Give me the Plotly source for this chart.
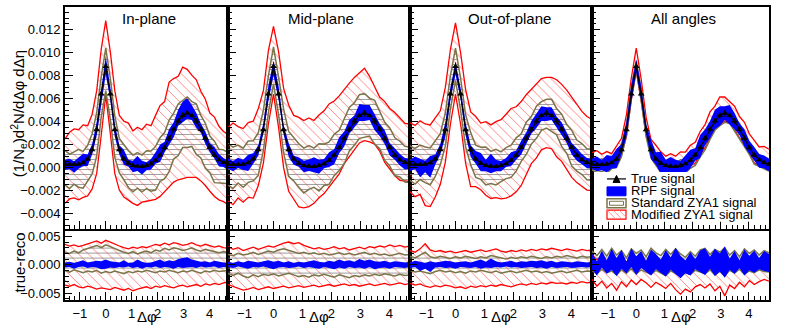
import plotly.graph_objects as go

W, H = 788, 328
SCALE = 1e-3  # all series below are in units of 1e-3
FONT = "Liberation Sans, Arial, sans-serif"
RED = "#ff0000"
OLIVE = "#7a7448"
BLUE = "#0000ff"

# bin centres in delta-phi (rad), -pi/2 .. 3pi/2
DPHI = [-1.571, -1.396, -1.222, -1.047, -0.873, -0.698, -0.524, -0.349, -0.175, 0.0,
        0.175, 0.349, 0.524, 0.698, 0.873, 1.047, 1.222, 1.396, 1.571, 1.745,
        1.920, 2.094, 2.269, 2.443, 2.618, 2.793, 2.967, 3.142, 3.316, 3.491,
        3.665, 3.840, 4.014, 4.189, 4.363, 4.538, 4.712]

TRUE_SIGNAL = [0.30, 0.28, 0.27, 0.30, 0.42, 0.75, 1.55, 3.30, 6.40, 8.80,
               6.40, 3.30, 1.55, 0.75, 0.38, 0.20, 0.12, 0.10, 0.18, 0.35,
               0.65, 1.10, 1.75, 2.55, 3.35, 4.05, 4.55, 4.75, 4.55, 4.05,
               3.35, 2.55, 1.75, 1.10, 0.70, 0.45, 0.30]
TRUE_ERR = [0.15, 0.15, 0.14, 0.15, 0.16, 0.18, 0.20, 0.25, 0.30, 0.35,
            0.30, 0.25, 0.20, 0.18, 0.16, 0.15, 0.14, 0.14, 0.15, 0.16,
            0.17, 0.19, 0.21, 0.23, 0.25, 0.27, 0.28, 0.29, 0.28, 0.27,
            0.25, 0.23, 0.21, 0.19, 0.17, 0.16, 0.15]

# ---- In-plane (offsets from the true signal) ----
MOD_HI_1 = [2.2, 2.8, 3.1, 3.0, 3.3, 2.9, 3.1, 3.4, 3.9, 4.0, 3.7, 3.4, 3.0, 3.3, 3.5, 3.0, 3.4, 3.2, 3.6, 3.3,
            3.9, 4.3, 4.0, 4.9, 4.4, 3.9, 4.2, 3.8, 3.5, 3.6, 3.3, 3.4, 3.0, 3.3, 2.9, 2.7, 2.6]
MOD_LO_1 = [-3.4, -3.0, -2.9, -3.1, -3.0, -3.2, -3.4, -3.8, -3.6, -2.5, -3.4, -3.8, -3.5, -3.3, -3.2, -3.3, -3.4, -3.1, -3.1, -3.2,
            -3.4, -3.6, -3.8, -4.2, -4.6, -5.1, -5.5, -5.6, -5.4, -4.9, -4.5, -4.1, -3.8, -3.6, -3.5, -3.4, -3.5]
STD_HI_1 = [1.2, 0.9, 1.1, 1.3, 1.0, 1.2, 1.4, 1.5, 1.5, 1.6, 1.4, 1.2, 1.0, 1.3, 1.1, 0.9, 1.2, 1.0, 1.3, 1.1,
            1.2, 1.5, 1.3, 1.6, 1.4, 1.5, 1.3, 1.4, 1.2, 1.5, 1.2, 1.3, 1.0, 1.2, 0.9, 1.1, 1.0]
STD_LO_1 = [-1.8, -2.1, -1.7, -2.0, -2.2, -1.9, -2.1, -2.3, -2.0, -2.1, -2.2, -2.4, -2.0, -1.8, -2.1, -2.3, -1.9, -2.2, -2.0, -2.4,
            -2.6, -2.3, -2.7, -2.9, -2.6, -3.0, -2.8, -3.0, -2.7, -2.9, -2.5, -2.6, -2.2, -2.4, -2.0, -1.8, -1.7]
RPF_HI_1 = [0.4, 0.5, 0.3, 0.6, 0.8, 0.4, 0.5, 0.7, 0.6, 0.9, 0.6, 0.5, 0.4, 0.8, 0.3, 0.4, 0.9, 0.5, 0.3, 0.4,
            0.7, 0.9, 0.5, 0.8, 0.6, 1.0, 1.2, 1.3, 0.9, 0.7, 0.5, 0.6, 0.4, 0.7, 0.5, 0.4, 0.3]
RPF_LO_1 = [-0.5, -0.4, -0.7, -0.4, -0.3, -0.6, -0.4, -0.5, -0.8, -0.7, -0.5, -0.6, -0.4, -0.5, -0.3, -0.6, -0.4, -0.7, -0.4, -0.5,
            -0.3, -0.6, -0.4, -0.5, -0.7, -0.4, -0.6, -0.5, -0.4, -0.6, -0.3, -0.5, -0.4, -0.3, -0.6, -0.4, -0.5]

# ---- Mid-plane ----
MOD_HI_2 = [3.2, 3.6, 3.3, 3.1, 3.5, 3.3, 3.6, 3.4, 3.8, 3.5, 3.7, 3.6, 3.9, 3.8, 4.0, 3.9, 4.2, 4.0, 4.4, 4.6,
            4.9, 4.7, 4.5, 4.3, 4.0, 3.8, 3.7, 3.9, 3.4, 3.0, 2.8, 3.2, 3.4, 3.7, 3.6, 3.4, 3.5]
MOD_LO_2 = [-3.2, -3.5, -2.9, -3.3, -3.0, -3.4, -3.1, -2.9, -2.6, -2.4, -2.9, -3.3, -3.6, -3.5, -3.8, -3.7, -3.5, -3.2, -2.8, -2.6,
            -2.3, -2.2, -2.3, -2.2, -2.4, -2.5, -2.4, -2.4, -2.3, -2.0, -1.9, -2.1, -1.9, -1.8, -1.8, -1.6, -1.5]
STD_HI_2 = [1.8, 1.5, 1.7, 1.4, 1.9, 1.6, 1.5, 1.7, 1.6, 1.7, 1.5, 1.8, 1.6, 1.9, 1.7, 1.5, 1.8, 1.6, 1.9, 1.7,
            1.6, 1.8, 1.5, 1.7, 1.9, 1.6, 1.8, 1.7, 1.5, 1.8, 1.6, 1.4, 1.7, 1.5, 1.6, 1.4, 1.5]
STD_LO_2 = [-1.8, -2.1, -1.6, -2.0, -1.7, -1.9, -2.2, -1.8, -1.6, -1.5, -1.8, -2.0, -2.3, -1.9, -2.1, -2.4, -2.0, -1.8, -2.2, -1.9,
            -2.1, -1.8, -2.0, -2.2, -1.9, -2.1, -2.0, -2.1, -1.8, -2.0, -1.7, -1.9, -1.6, -1.8, -1.5, -1.7, -1.6]
RPF_HI_2 = [0.5, 0.3, 0.6, 0.4, 0.7, 0.5, 0.4, 0.6, 0.8, 0.5, 0.7, 0.4, 0.6, 0.3, 0.5, 0.4, 0.6, 0.8, 0.5, 0.4,
            0.7, 0.5, 0.9, 0.6, 0.8, 0.5, 1.0, 0.7, 0.9, 0.6, 0.5, 0.7, 0.4, 0.6, 0.5, 0.4, 0.5]
RPF_LO_2 = [-0.4, -0.6, -0.3, -0.5, -0.7, -0.4, -0.5, -0.3, -0.6, -0.8, -0.5, -0.4, -0.6, -0.5, -0.3, -0.6, -0.4, -0.5, -0.7, -0.4,
            -0.6, -0.8, -0.5, -0.7, -0.4, -0.6, -0.5, -0.7, -0.4, -0.8, -0.6, -0.5, -0.7, -0.4, -0.5, -0.6, -0.4]

# ---- Out-of-plane ----
MOD_HI_3 = [3.6, 3.4, 3.8, 3.5, 3.3, 3.6, 3.4, 3.7, 3.9, 3.8, 3.6, 3.5, 3.3, 3.7, 3.5, 3.8, 3.6, 3.9, 4.0, 4.3,
            4.5, 4.2, 4.0, 3.8, 3.5, 3.3, 3.2, 3.1, 3.3, 3.6, 3.9, 4.2, 4.4, 4.5, 4.2, 4.0, 3.9]
MOD_LO_3 = [-2.4, -2.8, -2.6, -3.6, -3.8, -3.3, -3.0, -2.8, -2.6, -2.4, -2.6, -2.9, -3.2, -2.4, -2.3, -2.6, -2.8, -2.7, -2.9, -3.0,
            -3.1, -3.2, -3.3, -3.1, -3.0, -3.2, -3.0, -3.0, -2.9, -3.1, -2.8, -2.7, -2.6, -2.4, -2.3, -2.4, -2.3]
STD_HI_3 = [1.6, 1.4, 1.7, 1.5, 1.3, 1.6, 1.4, 1.5, 1.6, 1.6, 1.4, 1.3, 1.5, 1.2, 1.4, 1.6, 1.3, 1.5, 1.2, 1.4,
            1.3, 1.5, 1.2, 1.4, 1.1, 1.3, 1.2, 1.2, 1.4, 1.1, 1.3, 1.2, 1.5, 1.3, 1.4, 1.2, 1.3]
STD_LO_3 = [-1.4, -1.7, -1.3, -1.6, -1.9, -1.5, -1.3, -1.4, -1.3, -1.2, -1.4, -1.5, -1.3, -1.6, -1.4, -1.7, -1.5, -1.6, -1.4, -1.3,
            -1.5, -1.4, -1.2, -1.4, -1.3, -1.5, -1.3, -1.3, -1.4, -1.2, -1.5, -1.3, -1.6, -1.4, -1.3, -1.5, -1.4]
RPF_HI_3 = [0.4, 0.7, 0.5, 0.3, 0.6, 0.4, 0.5, 0.7, 0.6, 0.4, 0.5, 0.6, 0.4, 0.7, 0.9, 0.5, 1.1, 0.6, 0.4, 0.5,
            0.7, 0.4, 0.6, 0.5, 0.7, 0.6, 0.8, 0.5, 0.7, 0.4, 0.6, 0.5, 0.4, 0.6, 0.5, 0.4, 0.5]
RPF_LO_3 = [-0.6, -0.4, -1.1, -0.7, -1.3, -0.5, -0.4, -0.6, -0.5, -0.7, -0.4, -0.5, -0.6, -0.4, -0.7, -0.5, -0.6, -0.4, -0.5, -0.3,
            -0.5, -0.4, -0.6, -0.5, -0.4, -0.6, -0.5, -0.7, -0.4, -0.6, -0.5, -0.4, -0.6, -0.5, -0.4, -0.5, -0.4]

# ---- All angles ----
MOD_HI_4 = [1.0, 1.2, 0.9, 1.1, 0.8, 1.2, 1.0, 1.3, 1.4, 1.6, 1.3, 1.1, 0.9, 1.2, 1.0, 0.8, 1.1, 0.9, 1.2, 1.0,
            1.3, 1.1, 1.4, 1.2, 1.5, 1.3, 1.6, 1.4, 1.2, 1.3, 1.1, 1.4, 1.2, 1.3, 1.1, 1.4, 1.3]
MOD_LO_4 = [-0.3, -0.5, -0.4, -0.6, -0.3, -0.5, -0.4, -0.6, -0.5, -0.4, -0.6, -0.5, -0.3, -0.5, -0.4, -0.6, -0.3, -0.5, -0.4, -0.6,
            -0.5, -0.7, -0.6, -0.8, -0.7, -0.6, -0.8, -0.7, -0.6, -0.8, -0.7, -0.6, -0.5, -0.7, -0.5, -0.4, -0.5]
STD_HI_4 = [0.4, 0.3, 0.5, 0.3, 0.4, 0.2, 0.5, 0.4, 0.6, 0.5, 0.4, 0.3, 0.5, 0.3, 0.4, 0.2, 0.4, 0.3, 0.5, 0.3,
            0.4, 0.5, 0.3, 0.4, 0.3, 0.5, 0.4, 0.3, 0.4, 0.3, 0.5, 0.3, 0.4, 0.2, 0.4, 0.3, 0.3]
STD_LO_4 = [-0.5, -0.7, -0.6, -0.8, -0.5, -0.7, -0.6, -0.5, -0.4, -0.3, -0.5, -0.6, -0.7, -0.5, -0.8, -0.6, -0.7, -0.5, -0.6, -0.8,
            -0.7, -0.9, -0.8, -1.0, -0.9, -0.8, -0.9, -0.8, -0.7, -0.9, -0.8, -0.7, -0.6, -0.8, -0.6, -0.5, -0.6]
RPF_HI_4 = [0.5, 0.7, 0.4, 0.8, 0.6, 0.9, 0.5, 0.7, 0.8, 0.6, 0.7, 0.5, 0.9, 0.6, 1.0, 0.5, 0.8, 0.6, 0.4, 0.7,
            0.9, 0.6, 1.1, 0.8, 0.7, 1.0, 0.8, 0.6, 0.9, 0.7, 0.5, 0.8, 0.6, 0.7, 0.5, 0.6, 0.5]
RPF_LO_4 = [-0.4, -0.6, -0.5, -0.7, -0.5, -0.8, -0.4, -0.6, -0.7, -0.5, -0.6, -0.4, -0.8, -0.5, -0.9, -0.6, -0.7, -0.5, -0.6, -0.8,
            -0.7, -0.5, -0.9, -0.6, -0.8, -0.7, -0.9, -0.6, -0.8, -0.7, -0.5, -0.7, -0.6, -0.5, -0.7, -0.5, -0.6]

# ---- residuals (true - reco) ----
R_MOD_HI_1 = [3.6, 3.3, 3.5, 3.2, 3.4, 3.7, 3.9, 4.2, 3.8, 4.3, 4.0, 3.6, 3.3, 3.0, 2.8, 3.1, 2.9, 3.2, 3.0, 3.3,
              3.6, 3.4, 3.8, 3.5, 3.9, 3.7, 3.4, 3.6, 3.9, 3.5, 3.3, 3.6, 3.4, 3.1, 3.3, 3.0, 2.9]
R_MOD_LO_1 = [-3.6, -3.8, -3.5, -3.9, -4.1, -3.8, -4.0, -4.3, -4.1, -4.2, -4.4, -4.0, -4.3, -4.5, -4.2, -4.6, -4.3, -4.1, -3.9, -4.2,
              -3.8, -4.0, -3.7, -3.9, -4.1, -3.8, -3.6, -3.9, -3.7, -3.5, -3.8, -3.4, -3.6, -3.3, -3.5, -3.2, -3.1]
R_STD_HI_1 = [2.2, 2.0, 2.4, 2.1, 2.6, 2.9, 3.1, 3.4, 3.0, 3.5, 3.2, 2.8, 2.5, 2.2, 2.0, 2.3, 1.9, 2.2, 2.4, 2.1,
              2.6, 2.4, 2.9, 2.6, 3.0, 2.8, 2.5, 2.7, 3.0, 2.6, 2.4, 2.7, 2.5, 2.3, 2.1, 2.3, 2.2]
R_STD_LO_1 = [-1.0, -1.3, -0.9, -1.2, -1.4, -1.1, -1.3, -1.0, -1.5, -1.2, -1.4, -1.1, -1.3, -1.6, -1.2, -1.4, -1.1, -1.3, -1.0, -1.2,
              -1.4, -1.1, -1.3, -1.0, -1.2, -1.4, -1.1, -1.3, -1.0, -1.2, -1.5, -1.1, -1.3, -1.0, -1.2, -1.1, -1.0]

R_MOD_HI_2 = [3.2, 2.7, 3.0, 2.5, 2.8, 3.1, 2.7, 3.0, 3.3, 3.1, 3.5, 3.8, 4.0, 3.7, 3.9, 3.4, 3.1, 2.8, 3.0, 2.7,
              2.9, 3.2, 2.8, 3.0, 2.6, 2.9, 3.1, 2.8, 3.2, 3.0, 3.3, 3.1, 3.5, 3.2, 3.4, 3.1, 3.3]
R_MOD_LO_2 = [-3.5, -3.8, -4.2, -4.5, -4.3, -4.0, -4.4, -4.1, -3.9, -4.2, -4.0, -3.8, -4.1, -3.9, -3.7, -4.0, -3.8, -3.6, -3.9, -3.7,
              -3.5, -3.8, -3.6, -3.4, -3.7, -3.5, -3.8, -3.6, -3.4, -3.7, -3.5, -3.3, -3.6, -3.4, -3.2, -3.5, -3.3]
R_STD_HI_2 = [1.8, 1.6, 2.0, 1.7, 1.9, 2.2, 1.8, 2.1, 2.4, 2.2, 2.6, 2.8, 2.5, 2.3, 2.0, 2.2, 1.9, 2.1, 1.8, 2.0,
              1.7, 1.9, 2.1, 1.8, 2.0, 1.7, 1.9, 2.2, 1.8, 2.0, 1.7, 1.9, 1.6, 1.8, 2.0, 1.7, 1.8]
R_STD_LO_2 = [-1.6, -1.9, -1.5, -2.0, -2.3, -1.8, -2.1, -1.7, -1.9, -1.6, -2.0, -1.7, -1.5, -1.8, -2.1, -1.9, -2.2, -1.8, -2.0, -1.7,
              -1.9, -2.2, -1.8, -2.0, -2.3, -1.9, -2.1, -1.8, -2.0, -1.7, -1.9, -1.6, -1.8, -2.0, -1.7, -1.9, -1.8]

R_MOD_HI_3 = [2.5, 2.2, 2.8, 3.7, 2.6, 2.3, 2.5, 2.2, 2.4, 2.1, 2.3, 2.5, 2.2, 2.4, 2.6, 2.3, 2.5, 2.8, 2.4, 2.2,
              2.5, 2.3, 2.6, 2.4, 2.7, 2.5, 2.8, 2.6, 2.9, 2.7, 2.5, 2.8, 2.6, 2.4, 2.7, 2.5, 2.6]
R_MOD_LO_3 = [-3.3, -3.6, -3.4, -3.8, -4.0, -3.7, -3.9, -3.6, -3.8, -4.1, -3.9, -4.2, -3.8, -4.0, -3.7, -3.9, -3.6, -3.8, -3.5, -3.7,
              -3.9, -3.6, -3.4, -3.6, -3.3, -3.5, -3.2, -3.4, -3.1, -3.3, -3.2, -3.4, -3.1, -3.3, -3.0, -3.2, -3.1]
R_STD_HI_3 = [1.5, 1.2, 1.7, 2.2, 1.4, 1.2, 1.5, 1.3, 1.1, 1.4, 1.2, 1.5, 1.3, 1.1, 1.4, 1.2, 1.6, 1.4, 1.2, 1.0,
              1.3, 1.1, 1.4, 1.2, 1.5, 1.3, 1.1, 1.4, 1.2, 1.5, 1.3, 1.6, 1.4, 1.2, 1.5, 1.3, 1.4]
R_STD_LO_3 = [-1.0, -1.3, -1.1, -1.4, -1.6, -1.2, -1.0, -1.3, -1.1, -1.4, -1.2, -1.5, -1.1, -1.3, -1.0, -1.2, -1.4, -1.1, -1.5, -1.3,
              -1.1, -1.4, -1.2, -1.0, -1.3, -1.1, -1.4, -1.2, -1.5, -1.3, -1.1, -1.4, -1.2, -1.0, -1.3, -1.1, -1.2]

R_MOD_HI_4 = [1.8, 0.9, 1.6, 0.6, 1.9, 0.8, 1.5, 0.4, 1.7, 1.0, 1.4, 0.5, 1.8, 1.1, 0.7, 1.5, 0.9, 1.6, 0.8, 0.3,
              1.2, 0.6, 1.4, 1.7, 0.9, 1.5, 1.1, 1.8, 0.7, 1.3, 0.5, 1.6, 1.0, 1.4, 0.8, 1.5, 1.2]
R_MOD_LO_4 = [-2.6, -3.8, -2.9, -4.1, -3.3, -4.5, -3.0, -3.9, -2.7, -3.5, -2.6, -3.2, -4.0, -3.1, -3.6, -4.2, -3.3, -4.4, -5.2, -4.3,
              -4.8, -3.9, -3.5, -4.1, -3.4, -4.6, -3.8, -5.5, -3.6, -4.2, -3.1, -3.9, -2.8, -3.5, -3.0, -2.6, -2.9]
R_STD_HI_4 = [2.4, 1.6, 2.7, 1.5, 2.9, 1.7, 2.5, 1.2, 2.8, 2.0, 2.6, 1.4, 2.9, 2.1, 1.6, 2.7, 1.8, 2.8, 1.9, 1.3,
              2.3, 1.5, 2.6, 2.9, 1.8, 2.7, 2.2, 3.0, 1.7, 2.5, 1.4, 2.8, 2.0, 2.6, 1.7, 2.5, 2.1]
R_STD_LO_4 = [-1.0, -1.6, -0.8, -1.4, -1.1, -1.8, -0.9, -1.5, -0.7, -1.6, -0.9, -1.3, -1.7, -1.0, -1.4, -1.9, -1.1, -1.6, -2.0, -1.4,
              -1.7, -1.0, -1.3, -1.6, -0.9, -1.8, -1.2, -2.0, -1.0, -1.5, -0.8, -1.7, -1.1, -1.4, -0.9, -1.2, -1.3]
R_RPF_HI_4 = [2.0, 0.6, 2.5, 0.8, 2.8, 1.2, 2.6, 0.5, 2.9, 1.5, 2.4, 0.7, 2.7, 1.9, 0.9, 2.6, 1.3, 3.0, 1.6, 0.8,
              2.2, 1.0, 2.5, 2.9, 1.4, 2.8, 2.0, 3.2, 1.1, 2.4, 0.8, 2.7, 1.6, 2.5, 1.2, 2.4, 1.9]
R_RPF_LO_4 = [-0.8, -1.9, -0.5, -1.6, -0.9, -2.0, -0.7, -1.5, -0.4, -1.8, -0.6, -1.2, -1.9, -0.8, -1.4, -2.1, -0.9, -1.7, -2.4, -1.5,
              -1.9, -0.8, -1.3, -1.8, -0.7, -2.0, -1.2, -2.3, -0.9, -1.6, -0.6, -1.9, -1.0, -1.4, -0.8, -1.1, -1.3]

PANEL_TITLES = ["In-plane", "Mid-plane", "Out-of-plane", "All angles"]
LEGEND_LABELS = ["True signal", "RPF signal", "Standard ZYA1 signal", "Modified ZYA1 signal"]

ZERO = [0.0] * len(DPHI)
# (mod_hi, mod_lo, std_hi, std_lo, rpf_hi, rpf_lo) for top and bottom pads
TOP = [
    (MOD_HI_1, MOD_LO_1, STD_HI_1, STD_LO_1, RPF_HI_1, RPF_LO_1),
    (MOD_HI_2, MOD_LO_2, STD_HI_2, STD_LO_2, RPF_HI_2, RPF_LO_2),
    (MOD_HI_3, MOD_LO_3, STD_HI_3, STD_LO_3, RPF_HI_3, RPF_LO_3),
    (MOD_HI_4, MOD_LO_4, STD_HI_4, STD_LO_4, RPF_HI_4, RPF_LO_4),
]
BOTTOM = [
    (R_MOD_HI_1, R_MOD_LO_1, R_STD_HI_1, R_STD_LO_1, RPF_HI_1, RPF_LO_1),
    (R_MOD_HI_2, R_MOD_LO_2, R_STD_HI_2, R_STD_LO_2, RPF_HI_2, RPF_LO_2),
    (R_MOD_HI_3, R_MOD_LO_3, R_STD_HI_3, R_STD_LO_3, RPF_HI_3, RPF_LO_3),
    (R_MOD_HI_4, R_MOD_LO_4, R_STD_HI_4, R_STD_LO_4, R_RPF_HI_4, R_RPF_LO_4),
]

# pixel layout of the pads
X_EDGES = [65, 228, 410, 592, 769]
TOP_PX = (228, 5)
BOT_PX = (300, 230)
XR = [-1.5708, 4.7124]
YR_TOP = [-0.0053, 0.01398]
YR_BOT = [-0.00626, 0.00602]


def px(x):
    return x / W


def py(y):
    return 1 - y / H


def shifted(base, off):
    return [(b + o) * SCALE for b, o in zip(base, off)]


def add_band(fig, lo, hi, xa, ya, line_color=None, line_w=1.2, fillcolor="rgba(0,0,0,0)", pattern=None):
    fig.add_trace(go.Scatter(
        x=DPHI + DPHI[::-1], y=hi + lo[::-1], mode="lines", fill="toself",
        fillcolor=fillcolor, fillpattern=pattern, line=dict(width=0, color=fillcolor),
        xaxis=xa, yaxis=ya, hoverinfo="skip", showlegend=False))
    if line_color:
        for edge in (lo, hi):
            fig.add_trace(go.Scatter(
                x=DPHI, y=edge, mode="lines", line=dict(color=line_color, width=line_w),
                xaxis=xa, yaxis=ya, hoverinfo="skip", showlegend=False))


red_hatch = dict(shape="\\", fgcolor=RED, fgopacity=0.55, bgcolor="rgba(0,0,0,0)", size=7, solidity=0.12)
grey_hatch = dict(shape="-", fgcolor="#777777", fgopacity=0.8, bgcolor="rgba(0,0,0,0)", size=5, solidity=0.18)

fig = go.Figure()

for i in range(4):
    for k, (base, sets) in enumerate([(TRUE_SIGNAL, TOP[i]), (ZERO, BOTTOM[i])]):
        n = i + 1 + 4 * k
        xa = "x" if n == 1 else f"x{n}"
        ya = "y" if n == 1 else f"y{n}"
        mod_hi, mod_lo, std_hi, std_lo, rpf_hi, rpf_lo = sets
        add_band(fig, shifted(base, mod_lo), shifted(base, mod_hi), xa, ya,
                 line_color=RED, line_w=1.3, pattern=red_hatch)
        add_band(fig, shifted(base, std_lo), shifted(base, std_hi), xa, ya,
                 line_color=OLIVE, line_w=1.5, pattern=grey_hatch)
        add_band(fig, shifted(base, rpf_lo), shifted(base, rpf_hi), xa, ya, fillcolor=BLUE)
        if k == 0:
            fig.add_trace(go.Scatter(
                x=DPHI, y=[v * SCALE for v in TRUE_SIGNAL], mode="lines+markers",
                line=dict(color="black", width=1.2),
                marker=dict(symbol="triangle-up", size=6, color="black"),
                error_y=dict(type="data", array=[e * SCALE for e in TRUE_ERR], color="black", thickness=1, width=0),
                xaxis=xa, yaxis=ya, hoverinfo="skip", showlegend=False))

axis_base = dict(showline=True, linecolor="black", linewidth=2, mirror=True, ticks="inside",
                 tickcolor="black", tickwidth=1, showgrid=False, zeroline=False,
                 tickfont=dict(family=FONT, size=13, color="black"))

layout = dict(
    width=W, height=H, autosize=False, margin=dict(l=0, r=0, t=0, b=0),
    paper_bgcolor="white", plot_bgcolor="white", showlegend=False,
    font=dict(family=FONT, color="black"),
)
for i in range(4):
    xdom = [px(X_EDGES[i]), px(X_EDGES[i + 1])]
    for k in range(2):
        n = i + 1 + 4 * k
        sx = "" if n == 1 else str(n)
        ydom = [py(TOP_PX[0]), py(TOP_PX[1])] if k == 0 else [py(BOT_PX[0]), py(BOT_PX[1])]
        layout["xaxis" + sx] = dict(
            axis_base, domain=xdom, range=XR, anchor="y" + sx, tick0=0, dtick=1, ticklen=8,
            showticklabels=(k == 1),
            minor=dict(ticks="inside", tick0=0, dtick=0.2, ticklen=4, tickcolor="black"))
        if k == 0:
            layout["yaxis" + sx] = dict(
                axis_base, domain=ydom, range=YR_TOP, anchor="x" + sx, tick0=0, dtick=0.002,
                tickformat=".3f", ticklen=8, showticklabels=(i == 0),
                minor=dict(ticks="inside", tick0=0, dtick=0.0005, ticklen=4, tickcolor="black"))
        else:
            layout["yaxis" + sx] = dict(
                axis_base, domain=ydom, range=YR_BOT, anchor="x" + sx, tick0=0, dtick=0.005,
                tickformat=".3f", ticklen=7, showticklabels=(i == 0),
                minor=dict(ticks="inside", tick0=0, dtick=0.001, ticklen=4, tickcolor="black"))
fig.update_layout(**layout)

ann = []
title_x = [149, 321, 509, 683]
for i, t in enumerate(PANEL_TITLES):
    ann.append(dict(x=px(title_x[i]), y=py(17), text=t, showarrow=False, xref="paper", yref="paper",
                    xanchor="center", yanchor="middle", font=dict(size=15)))
    ann.append(dict(x=px((X_EDGES[i] + X_EDGES[i + 1]) / 2), y=py(316), text="Δφ", showarrow=False,
                    xref="paper", yref="paper", xanchor="center", yanchor="middle", font=dict(size=15)))
ann.append(dict(x=px(18), y=py(113), text="(1/N<sub>e</sub>)d<sup>2</sup>N/dΔφ dΔη", textangle=-90,
                showarrow=False, xref="paper", yref="paper", xanchor="center", yanchor="middle",
                font=dict(size=15)))
ann.append(dict(x=px(19), y=py(262), text="true-reco", textangle=-90, showarrow=False,
                xref="paper", yref="paper", xanchor="center", yanchor="middle", font=dict(size=15)))

# legend (drawn by hand in the last pad)
leg_y = [178, 190, 202, 214]
for lbl, yy in zip(LEGEND_LABELS, leg_y):
    ann.append(dict(x=px(629), y=py(yy), text=lbl, showarrow=False, xref="paper", yref="paper",
                    xanchor="left", yanchor="middle", font=dict(size=13)))

shapes = []
P = dict(xref="paper", yref="paper", layer="above")
shapes.append(dict(P, type="rect", x0=px(594), x1=px(766), y0=py(221), y1=py(171),
                   fillcolor="white", line=dict(width=0)))
shapes.append(dict(P, type="line", x0=px(607), x1=px(626), y0=py(178), y1=py(178),
                   line=dict(color="black", width=1.2)))
shapes.append(dict(P, type="path",
                   path=f"M {px(613)},{py(181.5)} L {px(620)},{py(181.5)} L {px(616.5)},{py(174.5)} Z",
                   fillcolor="black", line=dict(color="black", width=1)))
shapes.append(dict(P, type="rect", x0=px(607), x1=px(626), y0=py(195), y1=py(186),
                   fillcolor=BLUE, line=dict(color=BLUE, width=1)))
shapes.append(dict(P, type="rect", x0=px(607), x1=px(626), y0=py(207), y1=py(198),
                   line=dict(color=OLIVE, width=1.5)))
shapes.append(dict(P, type="rect", x0=px(609.5), x1=px(623.5), y0=py(204.5), y1=py(200.5),
                   line=dict(color=OLIVE, width=1)))
shapes.append(dict(P, type="rect", x0=px(607), x1=px(626), y0=py(218.5), y1=py(209.5),
                   line=dict(color=RED, width=1.2)))
for x0 in [607, 613, 619]:
    shapes.append(dict(P, type="line", x0=px(x0), x1=px(min(x0 + 9, 626)), y0=py(209.5),
                       y1=py(209.5 + min(9, 626 - x0)), line=dict(color="#ff8080", width=0.8)))

fig.update_layout(annotations=ann, shapes=shapes)
# page body has a default 8px margin; drop it so the figure sits at the window origin
fig.write_html("out.html", config={"displayModeBar": False},
               post_script="document.body.style.margin='0';document.body.style.overflow='hidden';")
